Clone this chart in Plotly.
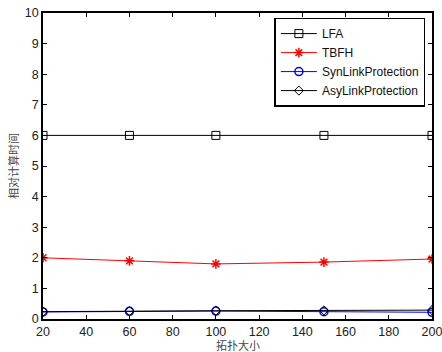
import plotly.graph_objects as go

# Topology sizes and relative computation time per algorithm
sizes = [20, 60, 100, 150, 200]
lfa = [6, 6, 6, 6, 6]
tbfh = [2.0, 1.9, 1.8, 1.86, 1.96]
syn_link = [0.23, 0.25, 0.26, 0.24, 0.22]
asy_link = [0.24, 0.26, 0.27, 0.28, 0.29]

x_ticks = [20, 40, 60, 80, 100, 120, 140, 160, 180, 200]
y_ticks = list(range(0, 11))

fig = go.Figure()
fig.add_trace(go.Scatter(x=sizes, y=lfa, name="LFA", mode="lines+markers",
                         line=dict(color="black", width=1),
                         marker=dict(symbol="square-open", size=8, color="black")))
fig.add_trace(go.Scatter(x=sizes, y=tbfh, name="TBFH", mode="lines+markers",
                         line=dict(color="red", width=1),
                         marker=dict(symbol="asterisk-open", size=8, color="red",
                                     line=dict(width=1.5, color="red"))))
fig.add_trace(go.Scatter(x=sizes, y=syn_link, name="SynLinkProtection", mode="lines+markers",
                         line=dict(color="blue", width=1),
                         marker=dict(symbol="circle-open", size=8, color="blue",
                                     line=dict(width=1.5))))
fig.add_trace(go.Scatter(x=sizes, y=asy_link, name="AsyLinkProtection", mode="lines+markers",
                         line=dict(color="black", width=1),
                         marker=dict(symbol="diamond-open", size=7, color="black")))

axis_common = dict(showgrid=False, zeroline=False, showline=True, linecolor="black",
                   linewidth=1.5, mirror="ticks", ticks="inside", ticklen=4,
                   tickcolor="black", automargin=False, ticklabeloverflow="allow",
                   tickfont=dict(family="Liberation Sans, Arial", size=12.5, color="#222"))

margin_b = 33
plot_h = 352 - 13 - margin_b

fig.update_layout(
    width=442, height=352,
    margin=dict(l=43, r=10, t=13, b=margin_b),
    paper_bgcolor="white", plot_bgcolor="white",
    showlegend=True,
    legend=dict(x=0.983, y=0.985, xanchor="right", yanchor="top",
                bordercolor="black", borderwidth=1.5, bgcolor="white",
                font=dict(family="Liberation Sans, Arial", size=12, color="#111"),
                tracegroupgap=0, itemwidth=36),
    xaxis=dict(range=[20, 200], tickvals=x_ticks, ticklabelstandoff=0, **axis_common),
    yaxis=dict(range=[0, 10], tickvals=y_ticks,
               title=dict(text="相对计算时间", standoff=4,
                          font=dict(family="Noto Sans CJK SC", size=11, color="#444")),
               **axis_common),
    annotations=[dict(text="拓扑大小", xref="paper", yref="paper", x=0.5,
                      y=-margin_b / plot_h, xanchor="center", yanchor="bottom",
                      showarrow=False, borderpad=0, yshift=-2,
                      font=dict(family="Noto Sans CJK SC", size=11, color="#444"))],
)

fig.write_html("out.html")
